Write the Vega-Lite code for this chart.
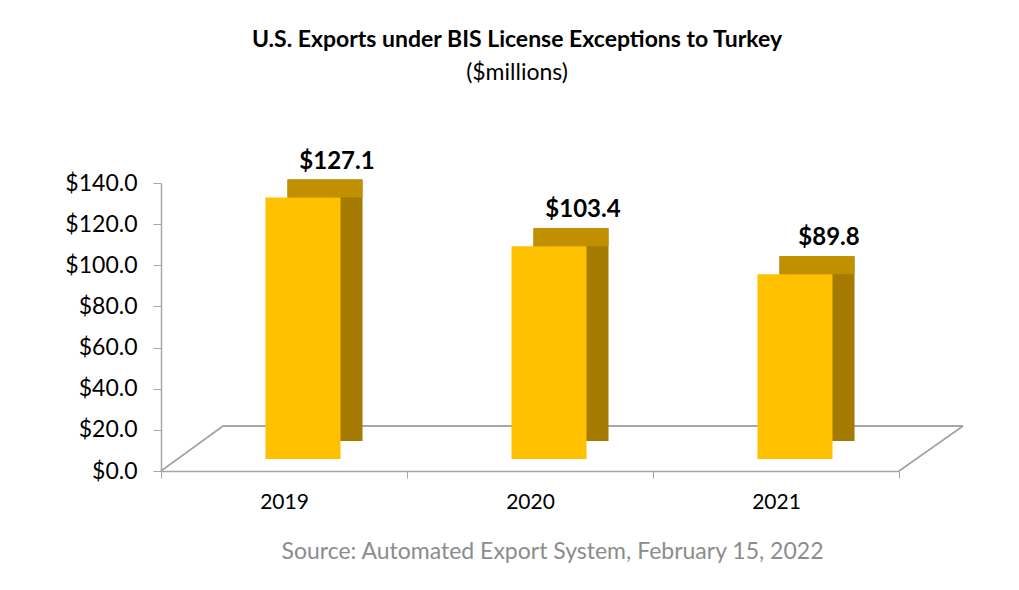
{
  "$schema": "https://vega.github.io/schema/vega-lite/v6.json",
  "width": 738,
  "height": 288,
  "autosize": {"type": "none"},
  "padding": {"left": 161, "top": 183, "right": 120, "bottom": 119},
  "background": "white",
  "config": {"view": {"stroke": null}, "font": "Lato"},
  "title": {
    "text": "U.S. Exports under BIS License Exceptions to Turkey",
    "subtitle": "($millions)",
    "anchor": "middle",
    "dx": -13,
    "offset": 65,
    "font": "Lato",
    "fontSize": 23,
    "fontWeight": "bold",
    "color": "#000000",
    "subtitleFont": "Lato",
    "subtitleFontSize": 23,
    "subtitleColor": "#000000",
    "subtitlePadding": 10
  },
  "data": {
    "values": [
      {"year": "2019", "exports": 127.1},
      {"year": "2020", "exports": 103.4},
      {"year": "2021", "exports": 89.8}
    ]
  },
  "encoding": {
    "x": {
      "field": "year",
      "type": "nominal",
      "scale": {"paddingInner": 0, "paddingOuter": 0},
      "axis": {
        "title": "Source: Automated Export System, February 15, 2022",
        "titleFont": "Lato",
        "titleFontSize": 23,
        "titleFontWeight": "normal",
        "titleColor": "#8C8C8C",
        "titleX": 391,
        "titlePadding": 28,
        "labelAngle": 0,
        "labelFont": "Lato",
        "labelFontSize": 21,
        "labelColor": "#000000",
        "labelPadding": 13,
        "tickBand": "extent",
        "tickSize": 7,
        "tickColor": "#A6A6A6",
        "domainColor": "#A6A6A6",
        "domainWidth": 1.5
      }
    }
  },
  "layer": [
    {
      "mark": {"type": "rule", "color": "#A6A6A6", "strokeWidth": 1.5, "xOffset": 62, "x2Offset": 64, "yOffset": -45, "y2Offset": -45},
      "encoding": {
        "x": {"datum": "2019", "type": "nominal", "bandPosition": 0},
        "x2": {"datum": "2021", "bandPosition": 1},
        "y": {"datum": 0, "type": "quantitative"}
      }
    },
    {
      "mark": {"type": "rule", "color": "#A6A6A6", "strokeWidth": 1.5, "x2Offset": 62, "y2Offset": -45},
      "encoding": {
        "x": {"datum": "2019", "type": "nominal", "bandPosition": 0},
        "x2": {"datum": "2019", "bandPosition": 0},
        "y": {"datum": 0, "type": "quantitative"},
        "y2": {"datum": 0}
      }
    },
    {
      "mark": {"type": "rule", "color": "#A6A6A6", "strokeWidth": 1.5, "x2Offset": 64, "y2Offset": -45},
      "encoding": {
        "x": {"datum": "2021", "type": "nominal", "bandPosition": 1},
        "x2": {"datum": "2021", "bandPosition": 1},
        "y": {"datum": 0, "type": "quantitative"},
        "y2": {"datum": 0}
      }
    },
    {
      "mark": {"type": "bar", "width": 75, "color": "#A47B00", "xOffset": 41, "yOffset": -30, "y2Offset": -30},
      "encoding": {
        "y": {
          "field": "exports",
          "type": "quantitative",
          "scale": {"domain": [0, 140]},
          "axis": {
            "title": null,
            "values": [0, 20, 40, 60, 80, 100, 120, 140],
            "format": "$.1f",
            "grid": false,
            "labelFont": "Lato",
            "labelFontSize": 23,
            "labelColor": "#000000",
            "labelPadding": 16,
            "tickSize": 8,
            "tickColor": "#A6A6A6",
            "domainColor": "#A6A6A6",
            "domainWidth": 1.5
          }
        },
        "y2": {"datum": 0}
      }
    },
    {
      "mark": {"type": "bar", "width": 75, "color": "#C09000", "xOffset": 41, "yOffset": -30, "y2Offset": -12},
      "encoding": {
        "y": {"field": "exports", "type": "quantitative"},
        "y2": {"field": "exports"}
      }
    },
    {
      "mark": {"type": "bar", "width": 75, "color": "#FFC000", "xOffset": 19, "yOffset": -12, "y2Offset": -12},
      "encoding": {
        "y": {"field": "exports", "type": "quantitative"},
        "y2": {"datum": 0}
      }
    },
    {
      "mark": {"type": "text", "dx": 53, "dy": -41, "baseline": "alphabetic", "font": "Lato", "fontSize": 24, "fontWeight": "bold", "color": "#000000"},
      "encoding": {
        "y": {"field": "exports", "type": "quantitative"},
        "text": {"field": "exports", "type": "quantitative", "format": "$.1f"}
      }
    }
  ]
}
